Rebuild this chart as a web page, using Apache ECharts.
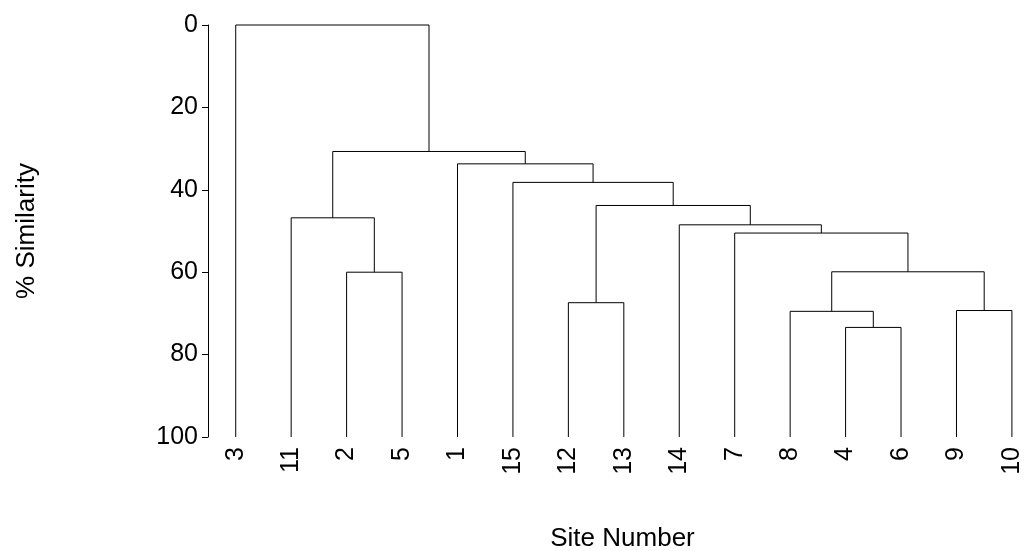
<!DOCTYPE html>
<html>
<head>
<meta charset="utf-8">
<title>Site dendrogram</title>
<script src="https://cdn.jsdelivr.net/npm/echarts@6/dist/echarts.min.js"></script>
<style>
  html, body { margin: 0; padding: 0; background: #fff; }
  #chart { width: 1025px; height: 551px; }
</style>
</head>
<body>
<div id="chart"></div>
<script>
// Leaf order along the x axis (site numbers)
const siteOrder = ['3', '11', '2', '5', '1', '15', '12', '13', '14', '7', '8', '4', '6', '9', '10'];

// Agglomeration steps, hclust style: negative = site number, positive = earlier step (1-based)
const mergeLeft   = [-2, -11, -12, -4, -8, -9, 5, -7, -14, 3, -15, -1, 2, -3];
const mergeRight  = [-5,   1, -13, -6,  4, -10, 6, 7, 8, 9, 10, 11, 12, 13];
const mergeHeight = [60.0, 46.8, 67.4, 73.4, 69.5, 69.3, 59.9, 50.5, 48.5, 43.8, 38.2, 33.7, 30.7, 0];

// Y axis ticks (% similarity)
const yTicks = [0, 20, 40, 60, 80, 100];
const leafLevel = 100;

// Build U-shaped links from the merge table
const nodeX = [];
const nodeH = [];
function childPos(ref) {
  if (ref < 0) {
    return [siteOrder.indexOf(String(-ref)), leafLevel];
  }
  return [nodeX[ref - 1], nodeH[ref - 1]];
}
const links = [];
for (let i = 0; i < mergeHeight.length; i++) {
  const [xl, hl] = childPos(mergeLeft[i]);
  const [xr, hr] = childPos(mergeRight[i]);
  nodeX[i] = (xl + xr) / 2;
  nodeH[i] = mergeHeight[i];
  links.push([xl, hl, xr, hr, mergeHeight[i]]);
}

const FONT = "'Liberation Sans', Arial, Helvetica, sans-serif";
const chart = echarts.init(document.getElementById('chart'), null, { renderer: 'canvas' });

chart.setOption({
  animation: false,
  backgroundColor: '#ffffff',
  grid: { left: 208, right: 2, top: 25, bottom: 114, containLabel: false, outerBoundsMode: 'none' },
  xAxis: {
    type: 'value',
    min: -0.5,
    max: 14.2,
    name: 'Site Number',
    nameLocation: 'middle',
    nameGap: 89,
    nameTextStyle: { fontFamily: FONT, fontSize: 26, color: '#000', padding: [0, 0, 0, 14] },
    axisLine: { show: false, onZero: false },
    axisTick: { show: false },
    splitLine: { show: false },
    axisLabel: {
      customValues: siteOrder.map((_, i) => i),
      formatter: v => siteOrder[Math.round(v)],
      rotate: 90,
      margin: 10,
      fontFamily: FONT,
      fontSize: 25,
      color: '#000'
    }
  },
  yAxis: {
    type: 'value',
    inverse: true,
    min: yTicks[0],
    max: yTicks[yTicks.length - 1],
    interval: 20,
    name: '% Similarity',
    nameLocation: 'middle',
    nameRotate: 90,
    nameGap: 168,
    nameTextStyle: { fontFamily: FONT, fontSize: 26, color: '#000' },
    axisLine: { show: true, onZero: false, lineStyle: { color: '#000', width: 1 } },
    axisTick: { show: true, length: 6, lineStyle: { color: '#000', width: 1 } },
    splitLine: { show: false },
    axisLabel: { margin: 10, fontFamily: FONT, fontSize: 25, color: '#000' }
  },
  series: [{
    type: 'custom',
    data: links,
    encode: { x: [0, 2], y: [1, 3, 4] },
    clip: false,
    renderItem: function (params, api) {
      const p1 = api.coord([api.value(0), api.value(1)]);
      const p2 = api.coord([api.value(0), api.value(4)]);
      const p3 = api.coord([api.value(2), api.value(4)]);
      const p4 = api.coord([api.value(2), api.value(3)]);
      return {
        type: 'polyline',
        shape: { points: [p1, p2, p3, p4] },
        style: { stroke: '#000', lineWidth: 1, fill: null }
      };
    }
  }]
});
</script>
</body>
</html>
